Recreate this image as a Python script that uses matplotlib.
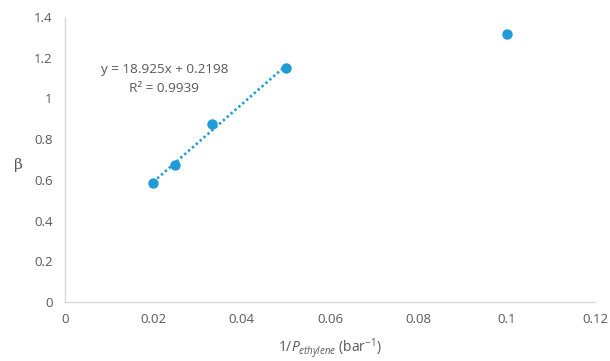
import matplotlib
matplotlib.use("Agg")
import matplotlib.pyplot as plt
import numpy as np

x_vals = [0.02, 0.025, 0.0333, 0.05, 0.1]
beta_vals = [0.585, 0.672, 0.873, 1.150, 1.315]
fit_n = 4  # first four points used for the trendline
eq_text = "y = 18.925x + 0.2198"
r2_text = "R² = 0.9939"
x_ticks = [0, 0.02, 0.04, 0.06, 0.08, 0.1, 0.12]
x_tick_labels = ["0", "0.02", "0.04", "0.06", "0.08", "0.1", "0.12"]
y_ticks = [0, 0.2, 0.4, 0.6, 0.8, 1.0, 1.2, 1.4]
y_tick_labels = ["0", "0.2", "0.4", "0.6", "0.8", "1", "1.2", "1.4"]

plt.rcParams['font.family'] = ['Open Sans', 'DejaVu Sans']
plt.rcParams['mathtext.fontset'] = 'custom'
plt.rcParams['mathtext.rm'] = 'Open Sans'
plt.rcParams['mathtext.it'] = 'Open Sans:italic'

gray = '#595959'
blue = '#1f9bd7'

fig = plt.figure(figsize=(6.10, 3.61), dpi=100)
ax = fig.add_axes([0.1066, 0.1634, 0.8688, 0.7896])

xs = np.array(x_vals[:fit_n]); ys = np.array(beta_vals[:fit_n])
m, b = np.polyfit(xs, ys, 1)
xl = np.array([xs.min(), xs.max()])
ax.plot(xl, m * xl + b, linestyle=(0, (0.9, 1.05)), color=blue, lw=1.9,
        dash_capstyle='butt', zorder=2)
ax.plot(x_vals, beta_vals, 'o', color=blue, markersize=7.5, zorder=3, markeredgewidth=0)

ax.set_xlim(0, 0.12)
ax.set_ylim(0, 1.4)
ax.set_xticks(x_ticks)
ax.set_xticklabels(x_tick_labels)
ax.set_yticks(y_ticks)
ax.set_yticklabels(y_tick_labels)
ax.tick_params(axis='both', length=0, colors=gray, labelsize=9.5)
ax.tick_params(axis='x', pad=8)
ax.tick_params(axis='y', pad=9)
for s in ['top', 'right']:
    ax.spines[s].set_visible(False)
for s in ['left', 'bottom']:
    ax.spines[s].set_color('#d9d9d9')
    ax.spines[s].set_linewidth(1)

ax.text(0.0225, 1.14, eq_text, ha='center', va='center', color=gray, fontsize=9.7)
ax.text(0.0225, 1.05, r2_text, ha='center', va='center', color=gray, fontsize=9.7)

ax.set_xlabel(r'1/$\mathit{P}_{\mathit{ethylene}}$ (bar$^{\mathrm{-1}}$)', color=gray, fontsize=10, labelpad=8)
ax.set_ylabel('β', color=gray, fontsize=11, rotation=0, ha='center', va='center',
              family=['DejaVu Serif'])
ax.yaxis.set_label_coords(-0.087, 0.48)

fig.savefig('out.png', dpi=100)
